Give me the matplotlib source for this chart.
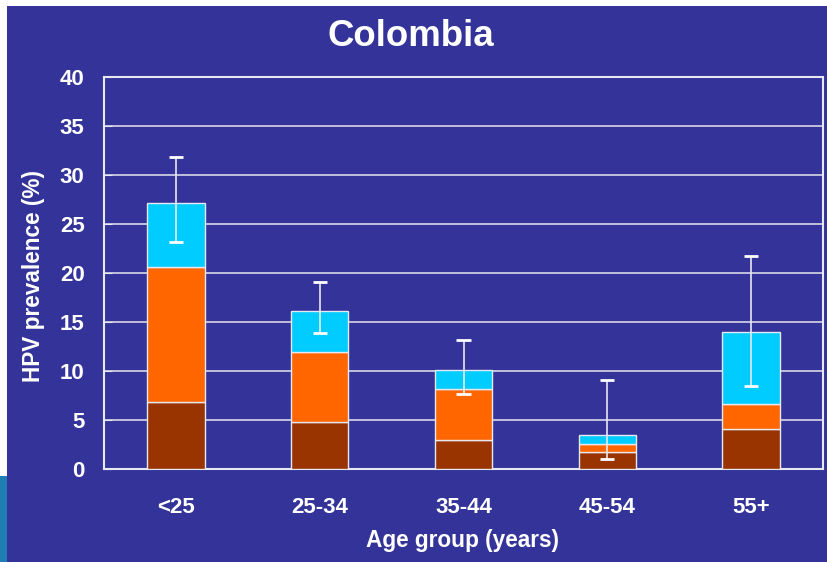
import matplotlib
matplotlib.use("Agg")
import matplotlib.pyplot as plt
from matplotlib.patches import Rectangle
import numpy as np

categories = ["<25", "25-34", "35-44", "45-54", "55+"]
# cumulative tops
brown = [6.8, 4.8, 3.0, 1.7, 4.1]
orange_top = [20.6, 11.9, 8.2, 2.6, 6.6]
cyan_top = [27.1, 16.1, 10.1, 3.5, 14.0]
err_low = [23.2, 13.9, 7.7, 1.05, 8.5]
err_high = [31.8, 19.1, 13.2, 9.05, 21.7]

orange = [o - b for o, b in zip(orange_top, brown)]
cyan = [c - o for c, o in zip(cyan_top, orange_top)]

BG = "#333399"
W, H = 827, 562
fig = plt.figure(figsize=(W / 100, H / 100), dpi=100, facecolor="white")
# background panel
fig.patches.append(Rectangle((7 / W, 0), 1, 1 - 6 / H, transform=fig.transFigure,
                             facecolor=BG, edgecolor="none", zorder=-10))
fig.patches.append(Rectangle((0, 0), 7 / W, (H - 476) / H, transform=fig.transFigure,
                             facecolor="#1F7FB5", edgecolor="none", zorder=-10))

ax = fig.add_axes([104 / W, (H - 469) / H, (823 - 104) / W, (469 - 77) / H])
ax.set_facecolor(BG)
x = np.arange(len(categories))
bw = 0.4
ec = "#E8E8F0"
ax.bar(x, brown, bw, color="#993300", edgecolor=ec, linewidth=1, zorder=3)
ax.bar(x, orange, bw, bottom=brown, color="#FF6600", edgecolor=ec, linewidth=1, zorder=3)
ax.bar(x, cyan, bw, bottom=orange_top, color="#00CCFF", edgecolor=ec, linewidth=1, zorder=3)
ax.vlines(x, err_low, err_high, color="#E8E8F0", linewidth=1.2, zorder=4)
ax.hlines(err_low, x - 0.05, x + 0.05, color="white", linewidth=2, zorder=4)
ax.hlines(err_high, x - 0.05, x + 0.05, color="white", linewidth=2, zorder=4)

ax.set_xlim(-0.5, len(categories) - 0.5)
ax.set_ylim(0, 40)
ax.set_yticks(range(0, 41, 5))
ax.yaxis.grid(True, color="#D8D8E8", linewidth=1.2, zorder=1)
ax.set_axisbelow(True)
for s in ax.spines.values():
    s.set_color("#E8E8F0")
    s.set_linewidth(1.5)
ax.tick_params(axis="y", direction="in", length=6, color="#E8E8F0", pad=14)
ax.tick_params(axis="x", length=0, pad=20)
ax.set_xticks(x)
ax.set_xticklabels(categories)

font = {"family": "Liberation Sans", "weight": "bold", "color": "white"}
for lab in ax.get_xticklabels() + ax.get_yticklabels():
    lab.set_fontfamily("Liberation Sans")
    lab.set_fontweight("bold")
    lab.set_color("white")
    lab.set_fontsize(16)

fig.text(34 / W, 1 - 276.5 / H, "HPV prevalence (%)", rotation=90, ha="center", va="center",
         fontsize=16.3, **font)
fig.text(462.5 / W, 1 - 541 / H, "Age group (years)", ha="center", va="center",
         fontsize=16.3, **font)
fig.text(411 / W, 1 - 37 / H, "Colombia", ha="center", va="center", fontsize=26.4, **font)

fig.savefig("out.png", dpi=100, facecolor=fig.get_facecolor())
